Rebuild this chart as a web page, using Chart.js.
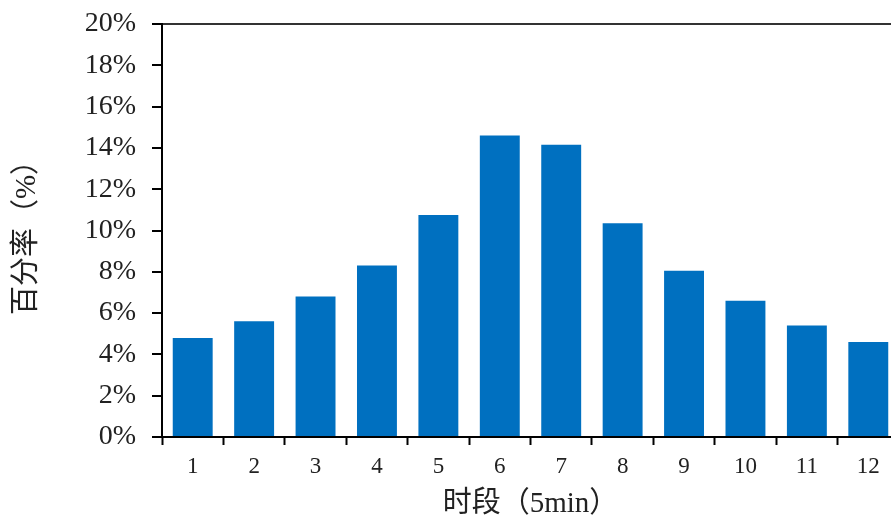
<!DOCTYPE html>
<html>
<head>
<meta charset="utf-8">
<script src="https://cdn.jsdelivr.net/npm/chart.js@4/dist/chart.umd.min.js"></script>
<style>
  html, body { margin: 0; padding: 0; background: #fff; overflow: hidden; }
  #wrap { position: relative; width: 900px; height: 524px; }
</style>
</head>
<body>
<div id="wrap"><canvas id="c"></canvas></div>
<script>
// Data
const categories = ['1', '2', '3', '4', '5', '6', '7', '8', '9', '10', '11', '12'];
const percentValues = [4.8, 5.6, 6.8, 8.3, 10.75, 14.6, 14.15, 10.35, 8.05, 6.6, 5.4, 4.6];
const yTickValues = [0, 2, 4, 6, 8, 10, 12, 14, 16, 18, 20];
const xAxisTitle = '时段（5min）';
const yAxisTitle = '百分率（%）';

const serifCJK = "'Liberation Serif', 'Times New Roman', 'Noto Sans CJK SC', serif";

new Chart(document.getElementById('c'), {
  type: 'bar',
  data: {
    labels: categories,
    datasets: [{
      data: percentValues,
      backgroundColor: '#0070C0',
      borderWidth: 0,
      barPercentage: 0.65,
      categoryPercentage: 1.0
    }]
  },
  options: {
    responsive: true,
    maintainAspectRatio: false,
    animation: false,
    layout: { padding: { top: 24, right: 1, left: 0, bottom: 0 } },
    plugins: { legend: { display: false }, tooltip: { enabled: false } },
    scales: {
      x: {
        offset: true,
        grid: {
          offset: true,
          drawOnChartArea: false,
          drawTicks: true,
          tickLength: 8,
          tickColor: '#000',
          tickWidth: 2
        },
        border: { display: true, color: '#000', width: 2 },
        ticks: {
          color: '#222',
          padding: 8,
          font: { family: serifCJK, size: 23 }
        },
        title: {
          display: true,
          text: xAxisTitle,
          color: '#222',
          font: { family: serifCJK, size: 29 },
          padding: { top: 0, bottom: 2 }
        },
        afterFit: (scale) => { scale.height = 87; scale.paddingLeft = 0; scale.paddingRight = 0; }
      },
      y: {
        min: 0,
        max: 20,
        afterBuildTicks: (scale) => { scale.ticks = yTickValues.map(v => ({ value: v })); },
        grid: {
          drawOnChartArea: true,
          color: (ctx) => (ctx.tick && ctx.tick.value === 20) ? '#333' : 'rgba(0,0,0,0)',
          lineWidth: 2,
          drawTicks: true,
          tickLength: 10,
          tickColor: '#000',
          tickWidth: 2
        },
        border: { display: true, color: '#000', width: 2 },
        ticks: {
          color: '#222',
          padding: 16,
          font: { family: serifCJK, size: 28 },
          callback: (v) => v + '%'
        },
        title: {
          display: true,
          text: yAxisTitle,
          color: '#222',
          font: { family: serifCJK, size: 29 },
          padding: { top: 10, bottom: 0 }
        },
        afterFit: (scale) => { scale.width = 162; scale.paddingTop = 0; scale.paddingBottom = 0; }
      }
    }
  }
});
</script>
</body>
</html>
